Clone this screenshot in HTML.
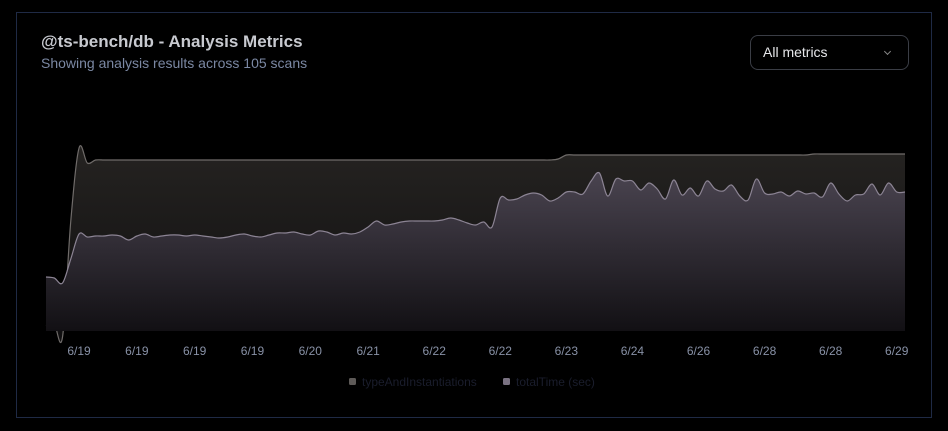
<!DOCTYPE html>
<html><head><meta charset="utf-8"><style>
html,body{margin:0;padding:0;background:#000;width:948px;height:431px;overflow:hidden;font-family:"Liberation Sans",sans-serif}
.card{position:absolute;left:16px;top:12px;width:916px;height:406px;border:1px solid #1f2a45;box-sizing:border-box}
.title{position:absolute;left:41px;top:32px;color:#c8cad0;font-weight:bold;font-size:17px}
.sub{position:absolute;left:41px;top:55px;color:#7b88a3;font-size:14px}
.dd{position:absolute;left:750px;top:35px;width:159px;height:35px;border:1px solid #3a3d45;border-radius:8px;box-sizing:border-box;color:#e6e7ea;font-size:14px;line-height:33px;padding-left:12px}
.dd span{position:absolute;right:18px;top:13px;width:4px;height:4px;border-right:1px solid #888;border-bottom:1px solid #888;transform:rotate(45deg)}
svg{position:absolute;left:0;top:0}
</style></head><body>
<div class="card"></div>
<div class="title">@ts-bench/db - Analysis Metrics</div>
<div class="sub">Showing analysis results across 105 scans</div>
<div class="dd">All metrics<span></span></div>
<svg id="chart" width="948" height="431">
<defs>
<linearGradient id="gT" x1="0" y1="0" x2="0" y2="1"><stop offset="0" stop-color="#252321"/><stop offset="1" stop-color="#0f0e0f"/></linearGradient>
<linearGradient id="gS" x1="0" y1="0" x2="0" y2="1"><stop offset="0" stop-color="#4a4450"/><stop offset="1" stop-color="#121014"/></linearGradient>
</defs>
</svg>
<script>
const typeVals=[5,7,-6,110,183,168,171,171,171,171,171,171,171,171,171,171,171,171,171,171,171,171,171,171,171,171,171,171,171,171,171,171,171,171,171,171,171,171,171,171,171,171,171,171,171,171,171,171,171,171,171,171,171,171,171,171,171,171,171,171,171,171,172,176,176,176,176,176,176,176,176,176,176,176,176,176,176,176,176,176,176,176,176,176,176,176,176,176,176,176,176,176,176,177,177,177,177,177,177,177,177,177,177,177,177].map(v=>v*100);
const timeVals=[54,53,48,72,97,94,95,95,96,95,91,95,97,94,95,96,96,95,96,95,94,93,94,96,97,95,94,96,98,98,99,97,96,100,99,96,98,97,99,104,110,106,107,109,110,110,110,110,111,113,111,108,106,109,104,133,131,132,136,138,136,130,133,139,139,137,150,158,135,152,150,150,141,148,142,132,151,136,143,135,150,142,140,146,135,131,152,138,137,139,135,140,137,138,134,148,137,130,136,137,147,136,148,139,139].map(v=>v/20);
const xLabels=["6/19","6/19","6/19","6/19","6/20","6/21","6/22","6/22","6/23","6/24","6/26","6/28","6/28","6/29"];
const xLabelIdx=[4,11,18,25,32,39,47,55,63,71,79,87,95,103];
const X0=46,X1=905,YB=331;
const xs=i=>X0+i*(X1-X0)/(timeVals.length-1);
const yType=v=>YB-v/19000*190;
const yTime=v=>YB-v/9.5*190;
const svg=document.getElementById('chart');
const NS='http://www.w3.org/2000/svg';
function curve(pts){let d='M'+pts[0][0]+','+pts[0][1];for(let i=0;i<pts.length-1;i++){const p0=pts[Math.max(0,i-1)],p1=pts[i],p2=pts[i+1],p3=pts[Math.min(pts.length-1,i+2)];d+=' C'+(p1[0]+(p2[0]-p0[0])/6)+','+(p1[1]+(p2[1]-p0[1])/6)+' '+(p2[0]-(p3[0]-p1[0])/6)+','+(p2[1]-(p3[1]-p1[1])/6)+' '+p2[0]+','+p2[1];}return d;}
function series(vals,ys,fill,stroke,name){
 const pts=vals.map((v,i)=>[xs(i),ys(v)]);const line=curve(pts);
 const a=document.createElementNS(NS,'path');a.setAttribute('d',line+' L'+X1+','+YB+' L'+X0+','+YB+' Z');a.setAttribute('fill',fill);
 
 
 svg.appendChild(a);
 const l=document.createElementNS(NS,'path');l.setAttribute('d',line);l.setAttribute('fill','none');l.setAttribute('stroke',stroke);l.setAttribute('stroke-width','1.2');
 
 
 svg.appendChild(l);}
series(typeVals,yType,'url(#gT)','#6f6b69','type-and-instantiations');
series(timeVals,yTime,'url(#gS)','#8c8494','total-time');
xLabels.forEach((t,k)=>{const e=document.createElementNS(NS,'text');e.setAttribute('x',xs(xLabelIdx[k]));e.setAttribute('y',355);e.setAttribute('text-anchor','middle');e.setAttribute('fill','#8891a6');e.setAttribute('font-size','12');e.textContent=t;
 
 
 svg.appendChild(e);});
</script>
<svg width="948" height="431" style="pointer-events:none">
<rect x="349" y="378" width="7" height="7" rx="1.5" fill="#5e5a58"/>
<text x="362" y="386" fill="#1a1d2c" font-size="12">typeAndInstantiations</text>
<rect x="503" y="378" width="7" height="7" rx="1.5" fill="#7a7282"/>
<text x="516" y="386" fill="#1a1d2c" font-size="12">totalTime (sec)</text>
</svg>
</body></html>
